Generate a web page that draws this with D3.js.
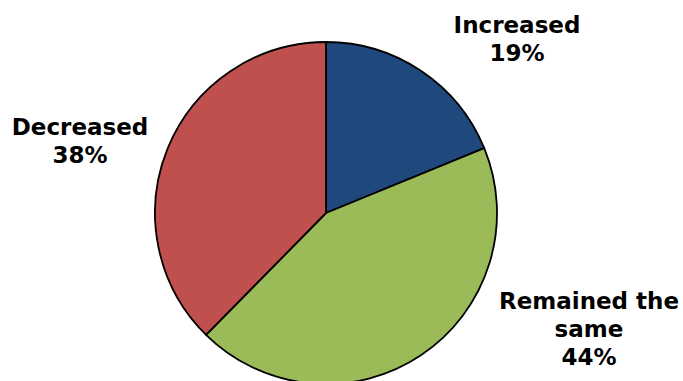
<!DOCTYPE html>
<html>
<head>
<meta charset="utf-8">
<script src="https://cdn.jsdelivr.net/npm/d3@7"></script>
<style>
  html, body { margin: 0; padding: 0; background: #fff; }
  svg { display: block; }
  text { font-family: "DejaVu Sans", Verdana, sans-serif; font-weight: bold; fill: #000; }
</style>
</head>
<body>
<svg id="chart" width="683" height="381"></svg>
<script>
// Survey responses, in drawing order (clockwise from 12 o'clock)
const categories = ["Increased", "Remained the same", "Decreased"];
const values = [19, 44, 38];
const colors = ["#1F497D", "#9BBB59", "#C0504D"];
// Label lines for each slice (category text wrapped, then the percentage)
const labelLines = [["Increased"], ["Remained the", "same"], ["Decreased"]];
const labelAnchors = [[517, 33], [589, 309], [80, 135]];

const svg = d3.select("#chart");
const cx = 326, cy = 213, r = 171;

const pie = d3.pie().sort(null).value(d => d)(values);
const arc = d3.arc().innerRadius(0).outerRadius(r);

const g = svg.append("g").attr("transform", `translate(${cx},${cy})`);
g.selectAll("path")
  .data(pie)
  .join("path")
  .attr("d", arc)
  .attr("fill", (d, i) => colors[i])
  .attr("stroke", "#000")
  .attr("stroke-width", 1.8)
  .attr("stroke-linejoin", "round");

const lineH = 28;
const labels = svg.selectAll("text.lbl")
  .data(pie)
  .join("text")
  .attr("class", "lbl")
  .attr("text-anchor", "middle")
  .attr("font-size", 23)
  .attr("transform", (d, i) => `translate(${labelAnchors[i][0]},${labelAnchors[i][1]})`);

labels.each(function(d, i) {
  const t = d3.select(this);
  const lines = labelLines[i].concat([d.value + "%"]);
  lines.forEach((s, k) => {
    t.append("tspan").attr("x", 0).attr("y", k * lineH).text(s);
  });
});
</script>
</body>
</html>
